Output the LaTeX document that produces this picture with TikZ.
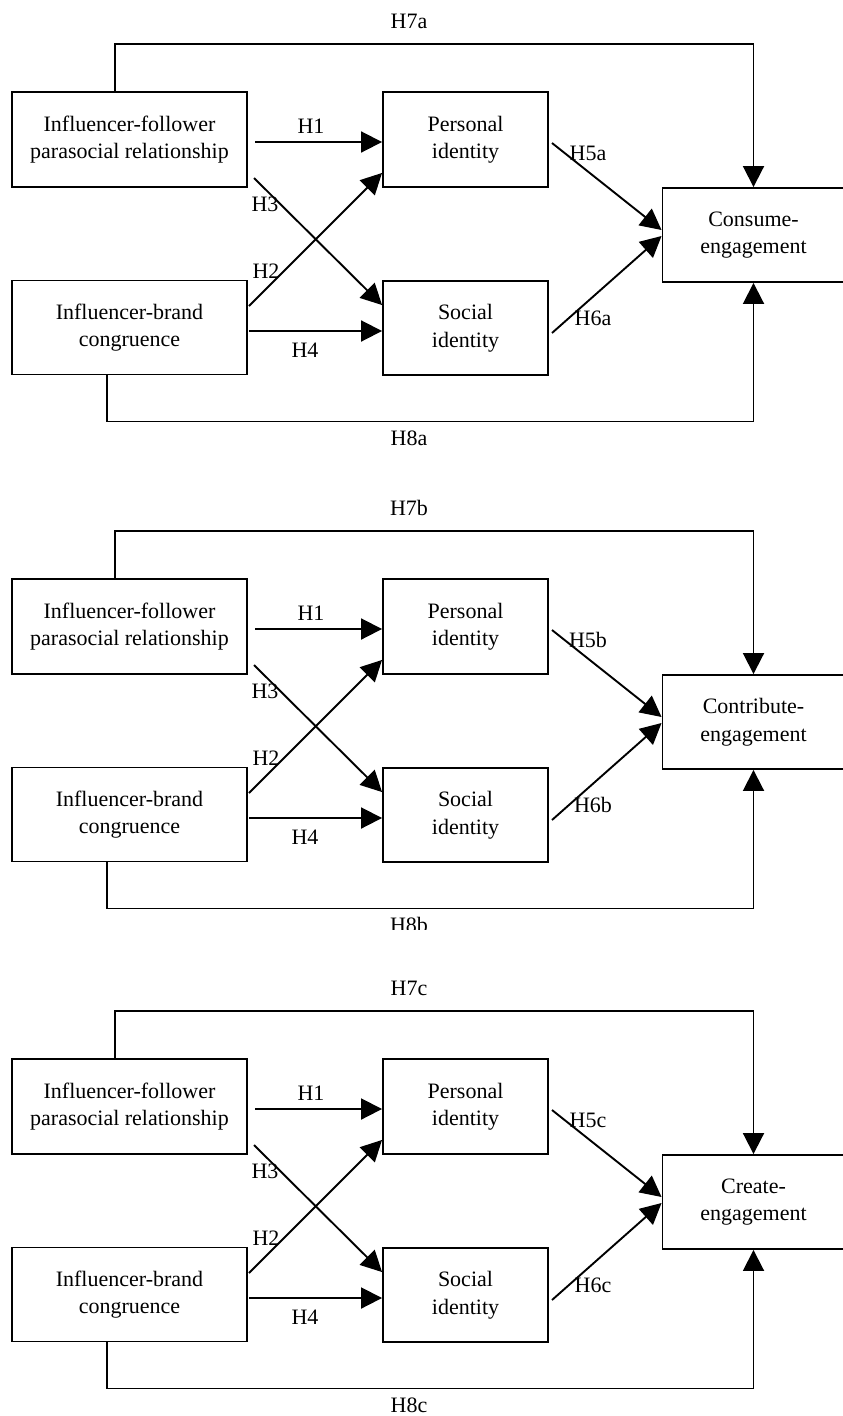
\documentclass[tikz,border=0pt]{standalone}
\usepackage{fontspec}
\setmainfont{Liberation Serif}
\usetikzlibrary{arrows.meta}
\tikzset{
  box/.style={draw, line width=1.9pt, rectangle, align=center, inner sep=0pt,
    font=\fontsize{22}{27.5}\selectfont},
  arr/.style={line width=1.9pt, -{Triangle[length=21pt,width=21pt]}},
  lbl/.style={font=\fontsize{22}{26}\selectfont, inner sep=0pt}
}
\newcommand{\drawpanel}[4]{%
\begin{scope}[yshift=-#2pt]
  \node[box, minimum width=235pt, minimum height=95pt] (#1if) at (129.5,139.5) {Influencer-follower\\parasocial relationship};
  \node[box, minimum width=235pt, minimum height=94pt] (#1ib) at (129.5,327.5) {Influencer-brand\\congruence};
  \node[box, minimum width=165pt, minimum height=95pt] (#1pi) at (465.5,139.5) {Personal\\identity};
  \node[box, minimum width=165pt, minimum height=94pt] (#1si) at (465.5,328) {Social\\identity};
  \node[box, minimum width=182pt, minimum height=94pt] (#1ce) at (753.5,235) {#3-\\engagement};
  % H1
  \coordinate (#1a1) at (255,142);
  \draw[arr] (#1a1) -- (#1pi.west |- #1a1);
  \node[lbl] (#1h1) at (311,126) {H1};
  % H3
  \coordinate (#1a3) at (254,178);
  \draw[arr] (#1a3) -- ([yshift=-25pt]#1si.north west);
  \node[lbl] (#1h3) at (265,204) {H3};
  % H2
  \coordinate (#1a2) at (249,306);
  \draw[arr] (#1a2) -- ([yshift=15pt]#1pi.south west);
  \node[lbl] (#1h2) at (266,271) {H2};
  % H4
  \coordinate (#1a4) at (249,331);
  \draw[arr] (#1a4) -- (#1si.west |- #1a4);
  \node[lbl] (#1h4) at (305,350) {H4};
  % H5
  \coordinate (#1a5) at (552,143);
  \draw[arr] (#1a5) -- ([yshift=5pt]#1ce.west);
  \node[lbl] (#1h5) at (588,153) {H5#4};
  % H6
  \coordinate (#1a6) at (552,333);
  \draw[arr] (#1a6) -- ([yshift=-1pt]#1ce.west);
  \node[lbl] (#1h6) at (593,318) {H6#4};
  % H7
  \draw[arr] ([xshift=-14.5pt]#1if.north) -- ++(0,-47) -| (#1ce.north);
  \node[lbl] (#1h7) at (409,21) {H7#4};
  % H8
  \draw[arr] ([xshift=-22.5pt]#1ib.south) -- ++(0,46) -| (#1ce.south);
\end{scope}}
\begin{document}
\begin{tikzpicture}[x=1pt,y=-1pt]
  \useasboundingbox[fill=white] (0,0) rectangle (843,1416);
  \drawpanel{p}{0}{Consume}{a}
  \node[lbl] (ph8) at (409,438) {H8a};
  \drawpanel{q}{487}{Contribute}{b}
  \begin{scope}
    \clip (300,900) rectangle (520,929.5);
    \node[lbl] (qh8) at (409,925) {H8b};
  \end{scope}
  \drawpanel{r}{967}{Create}{c}
  \node[lbl] (rh8) at (409,1405) {H8c};
\end{tikzpicture}
\end{document}
